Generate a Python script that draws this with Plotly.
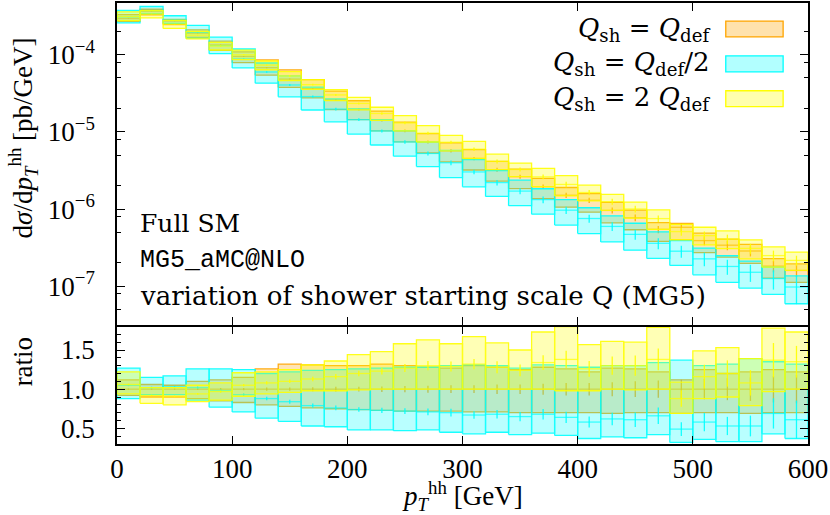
import plotly.graph_objects as go

# ---------------- data ----------------
bin_edges = [0, 20, 40, 60, 80, 100, 120, 140, 160, 180, 200, 220, 240, 260, 280, 300,
             320, 340, 360, 380, 400, 420, 440, 460, 480, 500, 520, 540, 560, 580, 600]

# Q_sh = Q_def central value [pb/GeV] (reference for the ratio)
def_central = [2.95e-4, 3.67e-4, 2.74e-4, 1.91e-4, 1.34e-4, 9.5e-5, 6.8e-5, 4.83e-5, 3.63e-5, 2.6e-5,
               1.95e-5, 1.41e-5, 1.03e-5, 7.4e-6, 5.69e-6, 4.52e-6, 3.24e-6, 2.63e-6, 1.95e-6, 1.51e-6,
               1.30e-6, 9.6e-7, 7.7e-7, 5.45e-7, 5.8e-7, 3.9e-7, 3.4e-7, 2.86e-7, 1.82e-7, 1.6e-7]

# bands relative to the Q_def central value
def_ratio_lo = [0.92, 0.90, 0.90, 0.88, 0.85, 0.83, 0.80, 0.78, 0.76, 0.75, 0.74, 0.73, 0.72, 0.72, 0.72,
                0.71, 0.71, 0.70, 0.70, 0.70, 0.70, 0.69, 0.70, 0.70, 0.69, 0.70, 0.70, 0.69, 0.70, 0.70]
def_ratio_hi = [1.12, 1.06, 1.05, 1.10, 1.12, 1.15, 1.26, 1.32, 1.31, 1.30, 1.30, 1.32, 1.30, 1.28, 1.27,
                1.30, 1.28, 1.25, 1.28, 1.26, 1.22, 1.27, 1.26, 1.22, 1.12, 1.25, 1.20, 1.22, 1.25, 1.22]
def_ratio_c = [1.00] * 30
def_err = [0.01, 0.01, 0.01, 0.01, 0.015, 0.015, 0.02, 0.02, 0.025, 0.03, 0.03, 0.035, 0.04, 0.045, 0.05,
           0.05, 0.06, 0.06, 0.07, 0.08, 0.08, 0.09, 0.10, 0.11, 0.12, 0.13, 0.14, 0.15, 0.17, 0.18]

half_ratio_lo = [0.88, 0.93, 0.93, 0.86, 0.77, 0.71, 0.63, 0.59, 0.53, 0.52, 0.48, 0.48, 0.47, 0.48, 0.45,
                 0.43, 0.45, 0.42, 0.44, 0.41, 0.37, 0.39, 0.38, 0.42, 0.32, 0.36, 0.33, 0.33, 0.43, 0.37]
# upper edge of the Q_def/2 band in the main panel
half_ratio_hi = [1.27, 1.15, 1.17, 1.26, 1.26, 1.25, 1.15, 1.10, 1.05, 1.03, 1.02, 1.02, 1.01, 1.00, 1.01,
                 0.97, 0.97, 0.90, 0.94, 0.88, 0.80, 0.85, 0.85, 0.93, 0.67, 0.80, 0.73, 0.74, 0.97, 0.85]
# upper edge of the Q_def/2 band as drawn in the ratio panel
half_ratio_hi_rp = [1.27, 1.15, 1.17, 1.26, 1.26, 1.25, 1.20, 1.22, 1.24, 1.25, 1.26, 1.27, 1.28, 1.28, 1.30,
                    1.31, 1.30, 1.27, 1.31, 1.30, 1.28, 1.30, 1.30, 1.34, 1.37, 1.30, 1.32, 1.39, 1.35, 1.32]
half_ratio_c = [1.05, 1.02, 1.03, 1.02, 0.98, 0.93, 0.88, 0.84, 0.79, 0.76, 0.74, 0.73, 0.72, 0.71, 0.70,
                0.67, 0.68, 0.65, 0.68, 0.64, 0.58, 0.62, 0.61, 0.66, 0.49, 0.58, 0.53, 0.53, 0.69, 0.61]
half_err = [0.012, 0.012, 0.013, 0.015, 0.02, 0.02, 0.025, 0.03, 0.035, 0.04, 0.04, 0.045, 0.05, 0.06, 0.07,
            0.07, 0.08, 0.09, 0.10, 0.11, 0.12, 0.13, 0.15, 0.16, 0.18, 0.20, 0.22, 0.25, 0.28, 0.40]

double_ratio_lo = [0.94, 0.82, 0.80, 0.84, 0.86, 0.91, 0.94, 0.96, 0.98, 0.98, 0.99, 1.00, 1.00, 1.00, 1.00,
                   1.00, 1.00, 1.00, 1.00, 0.98, 0.98, 1.00, 0.99, 1.00, 0.69, 0.88, 0.90, 0.79, 0.97, 1.00]
double_ratio_hi = [1.22, 1.02, 1.02, 1.05, 1.08, 1.21, 1.22, 1.25, 1.31, 1.36, 1.44, 1.48, 1.58, 1.63, 1.58,
                   1.67, 1.59, 1.50, 1.73, 1.80, 1.57, 1.61, 1.60, 1.79, 1.09, 1.49, 1.53, 1.39, 1.78, 1.73]
double_ratio_c = [1.06, 0.92, 0.91, 0.94, 0.97, 1.05, 1.08, 1.10, 1.13, 1.16, 1.20, 1.23, 1.27, 1.30, 1.29,
                  1.32, 1.28, 1.24, 1.34, 1.38, 1.26, 1.30, 1.30, 1.38, 0.88, 1.16, 1.20, 1.08, 1.37, 1.35]
double_err = [0.01, 0.01, 0.01, 0.012, 0.015, 0.015, 0.02, 0.02, 0.025, 0.03, 0.03, 0.035, 0.04, 0.045, 0.05,
              0.05, 0.06, 0.06, 0.07, 0.08, 0.08, 0.09, 0.10, 0.10, 0.12, 0.13, 0.14, 0.15, 0.16, 0.15]

series_names = ["Q_sh = Q_def", "Q_sh = Q_def/2", "Q_sh = 2 Q_def"]
y_tick_vals = [1e-7, 1e-6, 1e-5, 1e-4]
y_tick_text = ["10<sup>−7</sup>", "10<sup>−6</sup>", "10<sup>−5</sup>", "10<sup>−4</sup>"]
y_minor_vals = [5e-8, 8e-8, 2e-7, 5e-7, 8e-7, 2e-6, 5e-6, 8e-6, 2e-5, 5e-5, 8e-5, 2e-4]
r_tick_vals = [0.5, 1.0, 1.5]
r_tick_text = ["0.5", "1.0", "1.5"]
r_minor_vals = [0.3, 0.4, 0.6, 0.7, 0.8, 0.9, 1.1, 1.2, 1.3, 1.4, 1.6, 1.7, 1.8]
x_tick_vals = [0, 100, 200, 300, 400, 500, 600]

# ---------------- styles ----------------
styles = [
    dict(line="rgb(255,165,0)", fill="rgba(255,165,0,0.32)"),
    dict(line="rgb(0,255,255)", fill="rgba(0,255,255,0.30)"),
    dict(line="rgb(255,255,0)", fill="rgba(255,255,0,0.32)"),
]

FONT = "Liberation Serif"
TFONT = "DejaVu Serif"
FS = 27


def box_path(lo, hi):
    xs, ys = [], []
    for i in range(len(lo)):
        x0, x1 = bin_edges[i], bin_edges[i + 1]
        xs += [x0, x1, x1, x0, x0, None]
        ys += [lo[i], lo[i], hi[i], hi[i], lo[i], None]
    return xs, ys


def hline_path(vals):
    xs, ys = [], []
    for i in range(len(vals)):
        xs += [bin_edges[i], bin_edges[i + 1], None]
        ys += [vals[i], vals[i], None]
    return xs, ys


def err_path(vals, rel):
    xs, ys = [], []
    for i in range(len(vals)):
        xc = 0.5 * (bin_edges[i] + bin_edges[i + 1])
        xs += [xc, xc, None]
        ys += [vals[i] * (1 - rel[i]), vals[i] * (1 + rel[i]), None]
    return xs, ys


fig = go.Figure()

sets = [
    (def_ratio_lo, def_ratio_hi, def_ratio_hi, def_ratio_c, def_err),
    (half_ratio_lo, half_ratio_hi, half_ratio_hi_rp, half_ratio_c, half_err),
    (double_ratio_lo, double_ratio_hi, double_ratio_hi, double_ratio_c, double_err),
]

for (lo, hi, hi_rp, c, err), st, name in zip(sets, styles, series_names):
    abs_lo = [def_central[i] * lo[i] for i in range(30)]
    abs_hi = [def_central[i] * hi[i] for i in range(30)]
    abs_c = [def_central[i] * c[i] for i in range(30)]
    for (bl, bh, bc, xa, ya) in [(abs_lo, abs_hi, abs_c, "x2", "y2"), (lo, hi_rp, c, "x", "y")]:
        bx, by = box_path(bl, bh)
        fig.add_trace(go.Scatter(x=bx, y=by, mode="lines", fill="toself", fillcolor=st["fill"],
                                 line=dict(color=st["line"], width=1.3), opacity=0.9,
                                 xaxis=xa, yaxis=ya, showlegend=False, hoverinfo="skip", name=name))
        hx, hy = hline_path(bc)
        fig.add_trace(go.Scatter(x=hx, y=hy, mode="lines", line=dict(color=st["line"], width=1.3),
                                 opacity=0.7, xaxis=xa, yaxis=ya, showlegend=False, hoverinfo="skip"))
        ex, ey = err_path(bc, err)
        fig.add_trace(go.Scatter(x=ex, y=ey, mode="lines", line=dict(color=st["line"], width=1.3),
                                 opacity=0.9, xaxis=xa, yaxis=ya, showlegend=False, hoverinfo="skip"))

axis_common = dict(showline=True, linecolor="black", linewidth=1.5, mirror="allticks",
                   ticks="inside", tickcolor="black", showgrid=False, zeroline=False,
                   tickfont=dict(family=FONT, size=FS, color="black"))

fig.update_layout(
    width=830, height=515,
    margin=dict(l=117, r=22, t=1, b=71),
    paper_bgcolor="white", plot_bgcolor="white",
    showlegend=False,
    xaxis=dict(domain=[0, 1], range=[0, 600], tickvals=x_tick_vals, ticklen=8, anchor="y",
               ticklabelstandoff=0, **axis_common),
    xaxis2=dict(domain=[0, 1], range=[0, 600], tickvals=x_tick_vals, ticklen=8, anchor="y2",
                matches="x", showticklabels=False, **axis_common),
    yaxis=dict(domain=[0, 0.2664], range=[0.3, 1.8], tickvals=r_tick_vals, ticktext=r_tick_text,
               ticklen=8, anchor="x", ticklabelstandoff=15,
               minor=dict(tickvals=r_minor_vals, ticklen=4, ticks="inside", tickcolor="black"),
               **axis_common),
    yaxis2=dict(domain=[0.2709, 1], type="log", range=[-7.497, -3.329], tickvals=y_tick_vals,
                ticktext=y_tick_text, ticklen=8, anchor="x2", ticklabelstandoff=15,
                minor=dict(tickvals=y_minor_vals, ticklen=4, ticks="inside", tickcolor="black"),
                **axis_common),
)

# legend (text right-aligned, swatch on the right)
leg_text = [
    "<i>Q</i><sub>sh</sub> = <i>Q</i><sub>def</sub>",
    "<i>Q</i><sub>sh</sub> = <i>Q</i><sub>def</sub>/2",
    "<i>Q</i><sub>sh</sub> = 2 <i>Q</i><sub>def</sub>",
]
leg_y = [0.941, 0.862, 0.783]
for t, yy, st in zip(leg_text, leg_y, styles):
    fig.add_annotation(xref="paper", yref="paper", x=0.861, y=yy, text=t, showarrow=False,
                       xanchor="right", yanchor="middle", font=dict(family=TFONT, size=26, color="black"))
    fig.add_shape(type="rect", xref="paper", yref="paper", x0=0.881, x1=0.964,
                  y0=yy - 0.018, y1=yy + 0.018, fillcolor=st["fill"], line=dict(color=st["line"], width=1.3))

# text labels
fig.add_annotation(xref="paper", yref="paper", x=(138 - 117) / 691, y=(444 - 222) / 443, text="Full SM",
                   showarrow=False, xanchor="left", yanchor="middle",
                   font=dict(family=TFONT, size=25, color="black"))
fig.add_annotation(xref="paper", yref="paper", x=(138 - 117) / 691, y=(444 - 260) / 443, text="MG5_aMC@NLO",
                   showarrow=False, xanchor="left", yanchor="middle",
                   font=dict(family="Liberation Mono", size=25, color="black"))
fig.add_annotation(xref="paper", yref="paper", x=(138 - 117) / 691, y=(444 - 295) / 443,
                   text="variation of shower starting scale Q (MG5)",
                   showarrow=False, xanchor="left", yanchor="middle",
                   font=dict(family=TFONT, size=26, color="black"))

# axis titles
fig.add_annotation(xref="paper", yref="paper", x=(23 - 117) / 691, y=(444 - 137) / 443,
                   text="d<i>σ</i>/d<i>p</i><sub><i>T</i></sub><sup>hh</sup> [pb/GeV]",
                   textangle=-90, showarrow=False, xanchor="center", yanchor="middle",
                   font=dict(family=FONT, size=FS, color="black"))
fig.add_annotation(xref="paper", yref="paper", x=(23 - 117) / 691, y=(444 - 362) / 443, text="ratio",
                   textangle=-90, showarrow=False, xanchor="center", yanchor="middle",
                   font=dict(family=FONT, size=FS, color="black"))
fig.add_annotation(xref="paper", yref="paper", x=0.5, y=(444 - 496) / 443,
                   text="<i>p</i><sub><i>T</i></sub><sup>hh</sup> [GeV]",
                   showarrow=False, xanchor="center", yanchor="middle",
                   font=dict(family=FONT, size=FS, color="black"))

fig.write_html("out.html", config={"displayModeBar": False},
               post_script="document.body.style.margin='0px';document.body.style.overflow='hidden';")
